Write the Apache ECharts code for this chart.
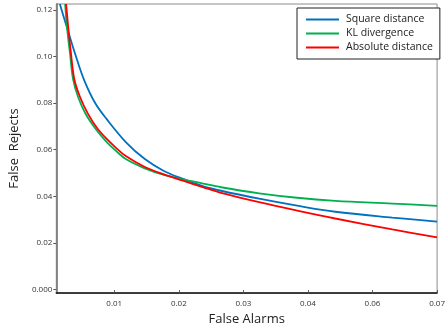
<!DOCTYPE html>
<html>
<head>
<meta charset="utf-8">
<script src="https://cdn.jsdelivr.net/npm/echarts@6/dist/echarts.min.js"></script>
<style>
  html, body { margin: 0; padding: 0; background: #fff; }
  #chart { width: 448px; height: 331px; }
</style>
</head>
<body>
<div id="chart"></div>
<script>
// tick positions along each axis and the labels printed there
var xTickValues = [0.01, 0.02, 0.03, 0.04, 0.05, 0.06];
var xTickLabels = ["0.01", "0.02", "0.03", "0.04", "0.06", "0.07"];
var yTickValues = [0, 0.02, 0.04, 0.06, 0.08, 0.10, 0.12];
var yTickLabels = ["0.000", "0.02", "0.04", "0.06", "0.08", "0.10", "0.12"];

// [false alarms, false rejects]
var squareDistance = [
  [0.00158, 0.1225], [0.00265, 0.1127], [0.00398, 0.1008], [0.00531, 0.0901],
  [0.00707, 0.0799], [0.00884, 0.0731], [0.01179, 0.0633], [0.01474, 0.0560],
  [0.01769, 0.0509], [0.02064, 0.0475], [0.02359, 0.0445], [0.02654, 0.0424],
  [0.03243, 0.0390], [0.03833, 0.0360], [0.04423, 0.0334], [0.05307, 0.0309],
  [0.06000, 0.0292]
];
var klDivergence = [
  [0.00240, 0.1225], [0.00268, 0.1127], [0.00314, 0.1016], [0.00364, 0.0901],
  [0.00442, 0.0825], [0.00560, 0.0752], [0.00737, 0.0680], [0.00884, 0.0633],
  [0.01032, 0.0594], [0.01179, 0.0560], [0.01474, 0.0520], [0.01769, 0.0492],
  [0.02064, 0.0473], [0.02359, 0.0456], [0.02654, 0.0439], [0.03243, 0.0413],
  [0.03833, 0.0394], [0.04423, 0.0381], [0.05307, 0.0369], [0.06000, 0.0359]
];
var absoluteDistance = [
  [0.00255, 0.1225], [0.00287, 0.1127], [0.00329, 0.1016], [0.00383, 0.0901],
  [0.00472, 0.0825], [0.00590, 0.0756], [0.00737, 0.0692], [0.00884, 0.0646],
  [0.01032, 0.0607], [0.01179, 0.0573], [0.01474, 0.0526], [0.01769, 0.0494],
  [0.02064, 0.0467], [0.02359, 0.0441], [0.02654, 0.0415], [0.03243, 0.0375],
  [0.03833, 0.0339], [0.04423, 0.0305], [0.05307, 0.0258], [0.06000, 0.0224]
];

var font = "Open Sans";
var chart = echarts.init(document.getElementById("chart"), null, { renderer: "canvas" });

function line(name, data, color) {
  return {
    name: name,
    type: "line",
    data: data,
    smooth: 0.35,
    showSymbol: false,
    symbol: "none",
    lineStyle: { color: color, width: 1.8 },
    itemStyle: { color: color },
    animation: false,
  };
}

function tickText(values, labels) {
  return function (v) {
    var i = values.findIndex(function (t) { return Math.abs(t - v) < 1e-9; });
    return i >= 0 ? labels[i] : "";
  };
}

var option = {
  animation: false,
  grid: {
    left: 47,
    top: 4,
    right: 1,
    bottom: 36,
    show: true,
    borderColor: "#8c8c8c",
    borderWidth: 1,
  },
  legend: {
    orient: "vertical",
    left: 297,
    top: 8,
    padding: [6, 7, 6, 9],
    itemGap: 3,
    itemWidth: 33,
    itemHeight: 2,
    icon: "rect",
    borderColor: "#222",
    borderWidth: 1,
    backgroundColor: "#fff",
    textStyle: { fontFamily: font, fontSize: 10.5, color: "#222", padding: [0, 0, 0, 2] },
    data: ["Square distance", "KL divergence", "Absolute distance"],
  },
  xAxis: {
    type: "value",
    min: 0.00103,
    max: 0.06,
    name: "False Alarms",
    nameLocation: "middle",
    nameGap: 16,
    nameTextStyle: { fontFamily: font, fontSize: 13, color: "#222" },
    axisLine: { onZero: false, lineStyle: { color: "#111", width: 1.5 } },
    axisTick: { show: true, inside: true, length: 3, customValues: xTickValues, lineStyle: { color: "#555" } },
    axisLabel: {
      customValues: xTickValues,
      margin: 7,
      fontFamily: font,
      fontSize: 8,
      color: "#333",
      formatter: tickText(xTickValues, xTickLabels),
    },
    splitLine: { show: false },
  },
  yAxis: {
    type: "value",
    min: -0.0015,
    max: 0.1225,
    name: "False  Rejects",
    nameLocation: "middle",
    nameGap: 24,
    nameTextStyle: { fontFamily: font, fontSize: 13, color: "#222" },
    axisLine: { show: true, onZero: false, lineStyle: { color: "#7f7f7f", width: 1.8 } },
    axisTick: { show: true, length: 3, customValues: yTickValues, lineStyle: { color: "#555" } },
    axisLabel: {
      customValues: yTickValues,
      margin: 4,
      fontFamily: font,
      fontSize: 8,
      color: "#333",
      formatter: tickText(yTickValues, yTickLabels),
    },
    splitLine: { show: false },
  },
  series: [
    line("Square distance", squareDistance, "#0070C0"),
    line("KL divergence", klDivergence, "#00B050"),
    line("Absolute distance", absoluteDistance, "#FF0000"),
  ],
};

chart.setOption(option);
</script>
</body>
</html>
